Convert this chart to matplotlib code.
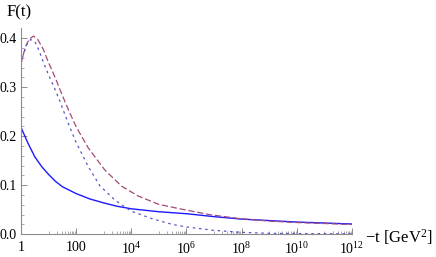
import numpy as np
import matplotlib
matplotlib.use('Agg')
import matplotlib.pyplot as plt
from matplotlib.ticker import FixedLocator, NullFormatter

plt.rcParams['font.family'] = ['Liberation Serif', 'DejaVu Serif']
plt.rcParams['mathtext.fontset'] = 'custom'
plt.rcParams['mathtext.rm'] = 'Liberation Serif'
plt.rcParams['mathtext.it'] = 'Liberation Serif:italic'

# ── Data (log10(-t), F) ──────────────────────────────────────────────────────
solid_logt = [0.0, 0.25, 0.5, 0.75, 1.0, 1.25, 1.5, 2.0, 2.5, 3.0, 3.5, 4.0,
              5.0, 6.0, 7.0, 8.0, 9.0, 10.0, 11.0, 12.0]
solid_F = [0.218, 0.186, 0.158, 0.138, 0.122, 0.108, 0.097, 0.083, 0.072,
           0.064, 0.057, 0.052, 0.046, 0.042, 0.036, 0.031, 0.028, 0.025,
           0.023, 0.021]

dash_logt = [0.0, 0.1, 0.2, 0.3, 0.45, 0.6, 0.8, 1.0, 1.25, 1.47, 1.75, 2.0,
             2.44, 3.04, 3.65, 4.25, 5.0, 5.76, 6.85, 7.93, 9.0, 10.0, 11.0,
             12.0]
dash_F = [0.348, 0.370, 0.387, 0.398, 0.404, 0.398, 0.378, 0.350, 0.318,
          0.287, 0.250, 0.219, 0.176, 0.131, 0.098, 0.078, 0.061, 0.052,
          0.040, 0.032, 0.027, 0.024, 0.022, 0.020]

dot_logt = [0.0, 0.1, 0.2, 0.35, 0.5, 0.65, 0.83, 1.0, 1.2, 1.4, 1.7, 2.0,
            2.44, 2.86, 3.4, 3.83, 4.06, 4.74, 5.5, 6.0, 7.0, 8.0, 9.0,
            10.0, 12.0]
dot_F = [0.348, 0.370, 0.386, 0.397, 0.393, 0.375, 0.348, 0.325, 0.300,
         0.273, 0.228, 0.187, 0.138, 0.099, 0.070, 0.053, 0.046, 0.032,
         0.020, 0.015, 0.008, 0.004, 0.002, 0.0015, 0.001]

y_ticks = [0.0, 0.1, 0.2, 0.3, 0.4]
x_major = [0, 2, 4, 6, 8, 10, 12]
x_labels = ['1', '100', r'$10^{4}$', r'$10^{6}$', r'$10^{8}$',
            r'$10^{10}$', r'$10^{12}$']

AXIS = '#8c8c8c'

fig = plt.figure(figsize=(4.36, 2.57), dpi=100)
ax = fig.add_axes([0.0482, 0.0883, 0.759, 0.8016])

ax.plot(10 ** np.array(solid_logt), solid_F, color='#1a1aff', lw=1.0)
ax.plot(10 ** np.array(dash_logt), dash_F, color='#a24a78', lw=0.9,
        dashes=(5, 2.2))
ax.plot(10 ** np.array(dot_logt), dot_F, color='#5555c8', lw=0.9,
        dashes=(2, 3))

ax.set_xscale('log')
ax.set_xlim(1, 1e12)
ax.set_ylim(0, 0.42)

ax.spines['top'].set_visible(False)
ax.spines['right'].set_visible(False)
for s in ['left', 'bottom']:
    ax.spines[s].set_color(AXIS)
    ax.spines[s].set_linewidth(0.8)

ax.xaxis.set_major_locator(FixedLocator([10.0 ** k for k in x_major]))
ax.set_xticklabels(x_labels)
# minor ticks only in the odd decades, as the reference shows
minor_x = [m * 10.0 ** k for k in range(1, 12, 2) for m in range(1, 10)]
ax.xaxis.set_minor_locator(FixedLocator(minor_x))
ax.xaxis.set_minor_formatter(NullFormatter())

ax.set_yticks(y_ticks)
ax.set_yticklabels([f'{v:.1f}' for v in y_ticks])
ax.yaxis.set_minor_locator(FixedLocator(np.arange(0, 0.42, 0.02)))

ax.tick_params(which='major', direction='in', length=4, width=0.7,
               color=AXIS, labelsize=10)
ax.tick_params(axis='x', which='major', pad=5)
ax.tick_params(axis='y', which='major', pad=3)
ax.tick_params(which='minor', direction='in', length=2, width=0.5,
               color=AXIS)

fig.text(0.016, 0.953, 'F(t)', fontsize=12, ha='left', va='center')
ax.text(1.039, -0.042, '\u2212t [GeV$^2$]', transform=ax.transAxes,
        fontsize=12, ha='left', va='baseline')

fig.savefig('out.png', dpi=100)
